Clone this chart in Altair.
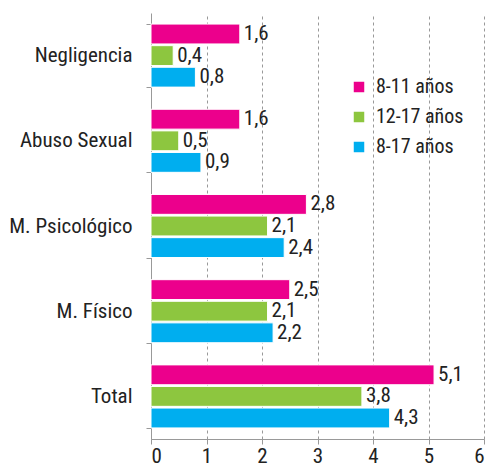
import altair as alt
import pandas as pd

categories = ["Negligencia", "Abuso Sexual", "M. Psicológico", "M. Físico", "Total"]
series = ["8-11 años", "12-17 años", "8-17 años"]
colors = ["#EC008C", "#8DC63F", "#00AEEF"]
v_8_11 = [1.6, 1.6, 2.8, 2.5, 5.1]
v_12_17 = [0.4, 0.5, 2.1, 2.1, 3.8]
v_8_17 = [0.8, 0.9, 2.4, 2.2, 4.3]
x_ticks = [0, 1, 2, 3, 4, 5, 6]

rows = []
for s, vals in zip(series, [v_8_11, v_12_17, v_8_17]):
    for c, v in zip(categories, vals):
        rows.append({"cat": c, "serie": s, "valor": v,
                     "etiqueta": f"{v:.1f}".replace(".", ",")})
df = pd.DataFrame(rows)

FONT = "Liberation Sans Narrow, Roboto Condensed, Arial Narrow, Roboto, sans-serif"

y_enc = alt.Y("cat:N", sort=categories,
              scale=alt.Scale(paddingInner=0.26, paddingOuter=0.13),
              axis=alt.Axis(title=None, tickBand="extent", labelFontSize=21,
                            labelPadding=14, tickSize=5, domainColor="#999999",
                            tickColor="#999999", labelColor="#222222", grid=False,
                            labelFont=FONT, labelFontWeight="normal"))
yoff = alt.YOffset("serie:N", sort=series, scale=alt.Scale(paddingInner=0.08))
x_enc = alt.X("valor:Q", scale=alt.Scale(domain=[0, 6], nice=False),
              axis=alt.Axis(title=None, values=x_ticks, format="d", labelFontSize=21,
                            labelFont=FONT, tickSize=5, domainColor="#999999",
                            tickColor="#999999", labelColor="#222222",
                            gridDash=[3, 3], gridColor="#999999", grid=True,
                            labelPadding=1, labelFontWeight="normal"))
color_enc = alt.Color("serie:N", sort=series,
                      scale=alt.Scale(domain=series, range=colors),
                      legend=alt.Legend(title=None, orient="none", legendX=198, legendY=64,
                                        symbolType="square", symbolSize=110,
                                        symbolStrokeWidth=0, labelFontSize=20,
                                        labelFont=FONT, labelColor="#222222",
                                        rowPadding=10, labelOffset=7))

bars = alt.Chart(df).mark_bar(stroke="white", strokeWidth=1).encode(
    y=y_enc, yOffset=yoff, x=x_enc, color=color_enc)
text = alt.Chart(df).mark_text(align="left", baseline="middle", dx=4, fontSize=21,
                               font=FONT, color="#222222").encode(
    y=alt.Y("cat:N", sort=categories), yOffset=alt.YOffset("serie:N", sort=series),
    x="valor:Q", text="etiqueta:N")

chart = (bars + text).properties(
    width=333, height=426,
    autosize=alt.AutoSizeParams(type="none"),
    padding={"left": 143, "top": 5, "right": 2, "bottom": 29},
).configure_view(stroke=None)

chart.save("out.html", embed_options={"renderer": "svg", "actions": False})
